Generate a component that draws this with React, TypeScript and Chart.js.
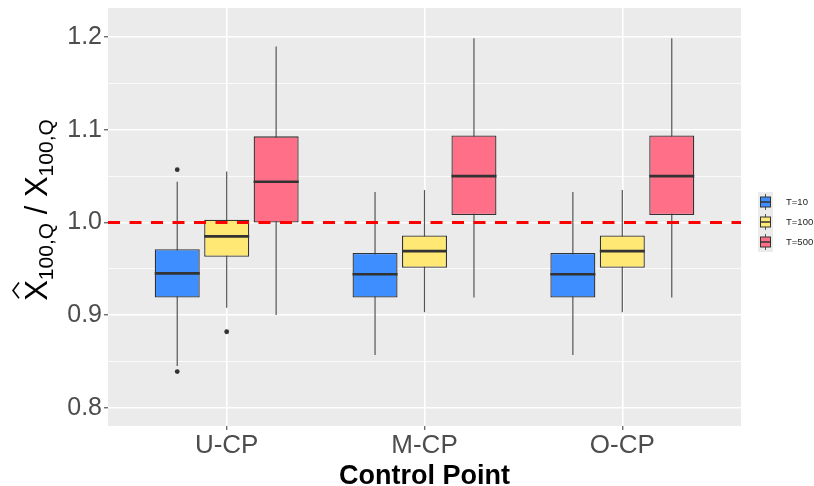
import React, { useEffect, useRef } from 'react';
import { Chart, registerables } from 'chart.js';

Chart.register(...registerables);

// ---------- data ----------
const categories = ['U-CP', 'M-CP', 'O-CP'];
const seriesLabels = ['T=10', 'T=100', 'T=500'];
const seriesColors = ['#3E8EFF', '#FFE874', '#FF7088'];

const t10Low = [0.845, 0.857, 0.857];
const t10Q1 = [0.919, 0.919, 0.919];
const t10Median = [0.945, 0.944, 0.944];
const t10Q3 = [0.971, 0.967, 0.967];
const t10High = [1.044, 1.033, 1.033];
const t10Outliers = [[0.839, 1.057], [], []];

const t100Low = [0.908, 0.903, 0.903];
const t100Q1 = [0.963, 0.951, 0.951];
const t100Median = [0.985, 0.969, 0.969];
const t100Q3 = [1.003, 0.986, 0.986];
const t100High = [1.055, 1.035, 1.035];
const t100Outliers = [[0.882], [], []];

const t500Low = [0.9, 0.919, 0.919];
const t500Q1 = [1.0, 1.008, 1.008];
const t500Median = [1.044, 1.05, 1.05];
const t500Q3 = [1.093, 1.094, 1.094];
const t500High = [1.19, 1.199, 1.199];
const t500Outliers = [[], [], []];

const yTickValues = [0.8, 0.85, 0.9, 0.95, 1.0, 1.05, 1.1, 1.15, 1.2];
const yMin = 0.7802;
const yMax = 1.2316;
const referenceValue = 1.0;
const xTitle = 'Control Point';

const stats = [
  { low: t10Low, q1: t10Q1, med: t10Median, q3: t10Q3, high: t10High, out: t10Outliers },
  { low: t100Low, q1: t100Q1, med: t100Median, q3: t100Q3, high: t100High, out: t100Outliers },
  { low: t500Low, q1: t500Q1, med: t500Median, q3: t500Q3, high: t500High, out: t500Outliers },
];

const FONT = '"Liberation Sans", Arial, sans-serif';
const isMajor = (v: any) => typeof v === 'number' && Math.abs(v * 10 - Math.round(v * 10)) < 1e-6;

const bgPlugin = {
  id: 'panelBg',
  beforeDraw(chart: any) {
    const { ctx, chartArea: a } = chart;
    ctx.save();
    ctx.fillStyle = '#EBEBEB';
    ctx.fillRect(a.left, a.top, a.right - a.left, a.bottom - a.top);
    ctx.restore();
  },
};

const boxPlugin = {
  id: 'boxParts',
  beforeDatasetsDraw(chart: any) {
    const ctx = chart.ctx;
    const ys = chart.scales.y;
    ctx.save();
    stats.forEach((s, d) => {
      const meta = chart.getDatasetMeta(d);
      meta.data.forEach((el: any, i: number) => {
        const { x } = el.getProps(['x'], true);
        ctx.strokeStyle = '#555555';
        ctx.lineWidth = 1.2;
        ctx.beginPath();
        ctx.moveTo(x, ys.getPixelForValue(s.low[i]));
        ctx.lineTo(x, ys.getPixelForValue(s.high[i]));
        ctx.stroke();
      });
    });
    ctx.restore();
  },
  afterDatasetsDraw(chart: any) {
    const ctx = chart.ctx;
    const ys = chart.scales.y;
    const a = chart.chartArea;
    ctx.save();
    stats.forEach((s, d) => {
      const meta = chart.getDatasetMeta(d);
      meta.data.forEach((el: any, i: number) => {
        const { x, width } = el.getProps(['x', 'width'], true);
        const ym = ys.getPixelForValue(s.med[i]);
        ctx.strokeStyle = '#333333';
        ctx.lineWidth = 2.6;
        ctx.beginPath();
        ctx.moveTo(x - width / 2, ym);
        ctx.lineTo(x + width / 2, ym);
        ctx.stroke();
        ctx.fillStyle = '#333333';
        s.out[i].forEach((v: number) => {
          ctx.beginPath();
          ctx.arc(x, ys.getPixelForValue(v), 2.4, 0, Math.PI * 2);
          ctx.fill();
        });
      });
    });
    // reference line
    const yr = ys.getPixelForValue(referenceValue);
    ctx.strokeStyle = '#FF0000';
    ctx.lineWidth = 3;
    ctx.setLineDash([12, 9.5]);
    ctx.beginPath();
    ctx.moveTo(a.left, yr);
    ctx.lineTo(a.right, yr);
    ctx.stroke();
    ctx.setLineDash([]);
    ctx.restore();
  },
  afterDraw(chart: any) {
    const ctx = chart.ctx;
    const a = chart.chartArea;
    ctx.save();
    // x title
    ctx.fillStyle = '#000000';
    ctx.font = `bold 27px ${FONT}`;
    ctx.textAlign = 'center';
    ctx.textBaseline = 'alphabetic';
    ctx.fillText(xTitle, (a.left + a.right) / 2, 484);

    // y title: X-hat_{100,Q} / X_{100,Q}
    const big = `31px ${FONT}`;
    const small = `21px ${FONT}`;
    const parts = [
      { t: 'X', f: big, dy: 0, hat: true },
      { t: '100,Q', f: small, dy: 6 },
      { t: ' / ', f: big, dy: 0 },
      { t: 'X', f: big, dy: 0 },
      { t: '100,Q', f: small, dy: 6 },
    ];
    let total = 0;
    const widths = parts.map((p) => {
      ctx.font = p.f;
      const w = ctx.measureText(p.t).width;
      total += w;
      return w;
    });
    const cy = 210;
    const base = 47;
    ctx.translate(0, cy);
    ctx.rotate(-Math.PI / 2);
    ctx.textAlign = 'left';
    let xx = -total / 2;
    parts.forEach((p, k) => {
      ctx.font = p.f;
      ctx.fillText(p.t, xx, base + p.dy);
      if ((p as any).hat) {
        const w = widths[k];
        ctx.strokeStyle = '#000';
        ctx.lineWidth = 1.6;
        ctx.beginPath();
        ctx.moveTo(xx + w * 0.12, 19);
        ctx.lineTo(xx + w * 0.5, 13);
        ctx.lineTo(xx + w * 0.88, 19);
        ctx.stroke();
      }
      xx += widths[k];
    });
    ctx.setTransform(1, 0, 0, 1, 0, 0);

    // legend
    seriesLabels.forEach((lab, d) => {
      const cyl = 202 + d * 20;
      ctx.fillStyle = '#EBEBEB';
      ctx.fillRect(758, cyl - 10, 15, 20);
      ctx.strokeStyle = '#555555';
      ctx.lineWidth = 1;
      ctx.beginPath();
      ctx.moveTo(765.5, cyl - 8);
      ctx.lineTo(765.5, cyl + 8);
      ctx.stroke();
      ctx.fillStyle = seriesColors[d];
      ctx.fillRect(760.5, cyl - 5, 10, 10);
      ctx.strokeStyle = '#333333';
      ctx.strokeRect(760.5, cyl - 5, 10, 10);
      ctx.lineWidth = 1.5;
      ctx.beginPath();
      ctx.moveTo(760.5, cyl);
      ctx.lineTo(770.5, cyl);
      ctx.stroke();
      ctx.fillStyle = '#1A1A1A';
      ctx.font = `9.5px ${FONT}`;
      ctx.textAlign = 'left';
      ctx.textBaseline = 'middle';
      ctx.fillText(lab, 786, cyl);
    });
    ctx.restore();
  },
};

export default function App() {
  const ref = useRef<HTMLCanvasElement | null>(null);
  useEffect(() => {
    if (!ref.current) return;
    const chart = new Chart(ref.current, {
      type: 'bar',
      data: {
        datasets: stats.map((s, d) => ({
          type: 'bar' as const,
          label: seriesLabels[d],
          data: categories.map((_, i) => ({ x: i + 1, y: [s.q1[i], s.q3[i]] })) as any,
          backgroundColor: seriesColors[d],
          borderColor: '#333333',
          borderWidth: 1.3,
          borderSkipped: false,
          categoryPercentage: 0.75,
          barPercentage: 0.91,
        })),
      },
      options: {
        animation: false,
        responsive: false,
        events: [],
        layout: { padding: { top: 8, right: 73, left: 0, bottom: 0 } },
        plugins: { legend: { display: false }, tooltip: { enabled: false } },
        scales: {
          x: {
            type: 'linear',
            min: 0.4,
            max: 3.6,
            offset: false,
            afterBuildTicks: (s: any) => {
              s.ticks = categories.map((_, i) => ({ value: i + 1 }));
            },
            afterFit: (s: any) => {
              s.height = 60;
              s.paddingLeft = 0;
              s.paddingRight = 0;
            },
            ticks: {
              callback: (v: any) => categories[Math.round(v) - 1] ?? '',
              font: { size: 26, family: FONT },
              color: '#4D4D4D',
              padding: 0,
              maxRotation: 0,
              autoSkip: false,
            },
            grid: {
              offset: false,
              color: '#FFFFFF',
              lineWidth: 1.6,
              tickColor: '#333333',
              tickLength: 4,
              tickWidth: 1,
            },
            border: { display: false },
          },
          y: {
            type: 'linear',
            min: yMin,
            max: yMax,
            afterBuildTicks: (s: any) => {
              s.ticks = yTickValues.map((v) => ({ value: v }));
            },
            afterFit: (s: any) => {
              s.width = 108;
              s.paddingTop = 0;
              s.paddingBottom = 0;
            },
            ticks: {
              callback: (v: any) => (isMajor(v) ? Number(v).toFixed(1) : ''),
              font: { size: 25, family: FONT },
              color: '#4D4D4D',
              padding: 2,
              autoSkip: false,
            },
            grid: {
              color: '#FFFFFF',
              lineWidth: (c: any) => (isMajor(c.tick?.value) ? 1.6 : 0.8),
              tickColor: (c: any) => (isMajor(c.tick?.value) ? '#333333' : 'rgba(0,0,0,0)'),
              tickLength: 4,
              tickWidth: 1,
            },
            border: { display: false },
          },
        },
      } as any,
      plugins: [bgPlugin, boxPlugin],
    });
    return () => chart.destroy();
  }, []);
  return (
    <div style={{ position: 'absolute', left: 0, top: 0, width: 814, height: 486 }}>
      <canvas ref={ref} width={814} height={486} style={{ width: 814, height: 486 }} />
    </div>
  );
}
